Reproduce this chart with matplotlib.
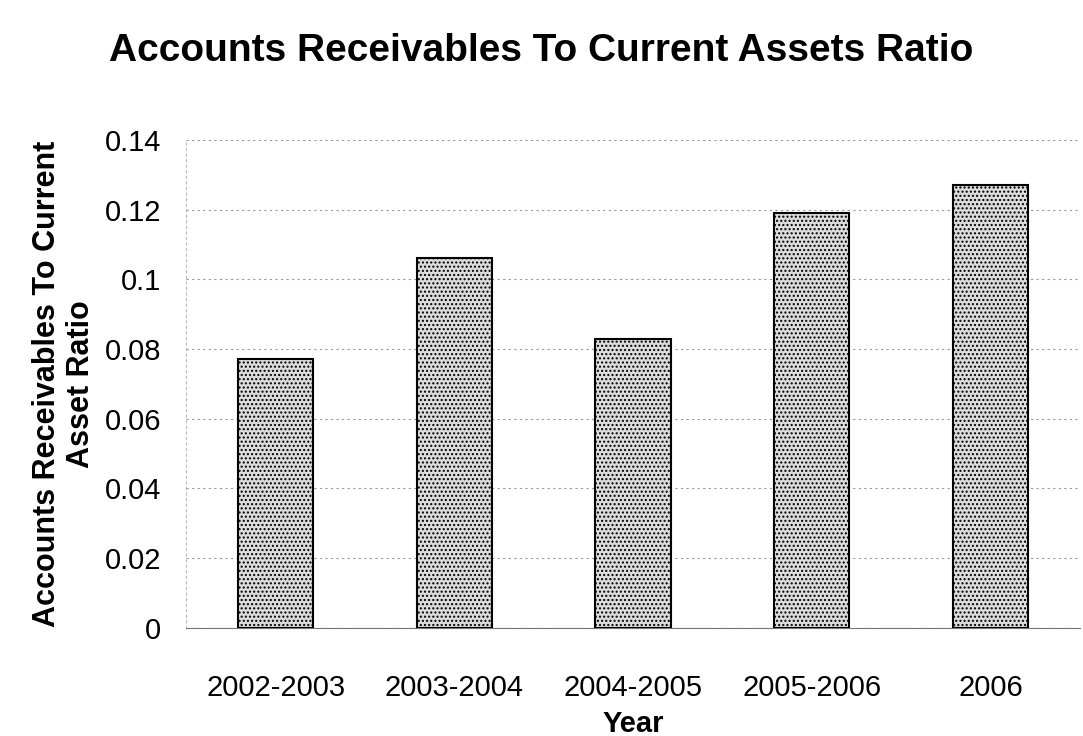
import matplotlib.pyplot as plt

plt.rcParams['font.family'] = ['Liberation Sans', 'DejaVu Sans']

# Data
years = ['2002-2003', '2003-2004', '2004-2005', '2005-2006', '2006']
ratios = [0.077, 0.106, 0.083, 0.119, 0.127]
yticks = [0, 0.02, 0.04, 0.06, 0.08, 0.1, 0.12, 0.14]
ytick_labels = ['0', '0.02', '0.04', '0.06', '0.08', '0.1', '0.12', '0.14']

fig = plt.figure(figsize=(10.83, 7.36), dpi=100)
ax = fig.add_axes([0.172, 0.147, 0.825, 0.663])

ax.bar(years, ratios, width=0.42, color='#dcdcdc', edgecolor='black',
       linewidth=1.5, hatch='....', zorder=3)

ax.set_ylim(0, 0.14)
ax.set_xlim(-0.5, 4.5)
ax.set_yticks(yticks)
ax.set_yticklabels(ytick_labels)
ax.yaxis.grid(True, color='#999999', linestyle=(0, (2, 3)), linewidth=0.8, zorder=0)

for side in ['top', 'right']:
    ax.spines[side].set_visible(False)
ax.spines['left'].set_color('#bbbbbb')
ax.spines['left'].set_linestyle((0, (2, 3)))
ax.spines['bottom'].set_color('#777777')
ax.tick_params(axis='both', length=0, labelsize=21)
ax.tick_params(axis='x', pad=33)
ax.tick_params(axis='y', pad=18)

ax.set_xlabel('Year', fontsize=21, fontweight='bold', labelpad=6)
ax.set_ylabel('Accounts Receivables To Current\nAsset Ratio', fontsize=22,
              fontweight='bold', labelpad=6, linespacing=1.2)
fig.suptitle('Accounts Receivables To Current Assets Ratio', fontsize=28,
             fontweight='bold', x=0.5, y=0.955)

fig.savefig('out.png', dpi=100)
